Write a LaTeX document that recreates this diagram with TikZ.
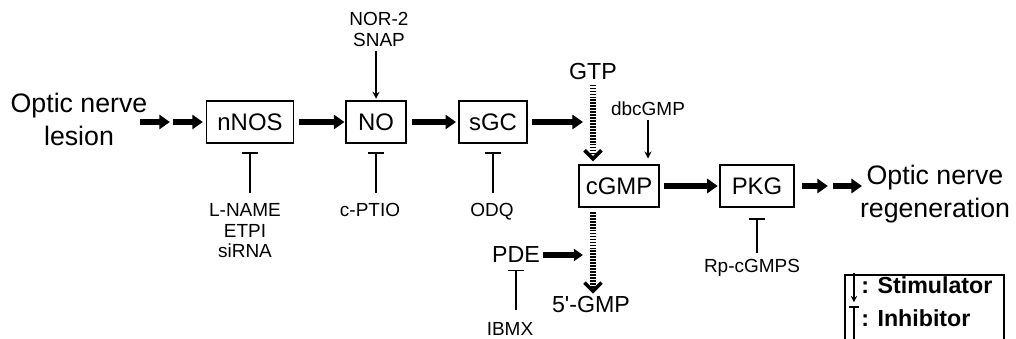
\documentclass[tikz,border=0pt]{standalone}
\usepackage{fontspec}
\setmainfont{Liberation Sans}
\usepackage{tikz}
\usetikzlibrary{arrows.meta}

\begin{document}
\begin{tikzpicture}[x=0.025cm,y=-0.025cm]
	\tikzstyle{box}=[draw=black,line width=1.2pt,minimum height=1.05cm,inner sep=0pt,font=\fontsize{17}{20}\selectfont]
	\tikzstyle{big}=[inner sep=0pt,align=center,font=\fontsize{19}{23.5}\selectfont]
	\tikzstyle{mid}=[inner sep=0pt,font=\fontsize{16.5}{20}\selectfont]
	\tikzstyle{small}=[inner sep=0pt,align=center,font=\fontsize{13.5}{14.8}\selectfont]
	\tikzstyle{legend}=[inner sep=0pt,font=\fontsize{16.5}{19}\selectfont\bfseries]
	\tikzstyle{fat}=[line width=4.3pt,-{Triangle[length=7.5pt,width=10pt]}]
	\tikzstyle{fatsmall}=[line width=3.6pt,-{Triangle[length=6.5pt,width=8.5pt]}]
	\tikzstyle{dots}=[line width=3.8pt,dash pattern=on 1.2pt off 0.9pt,-{Straight Barb[length=6pt,width=12pt,line width=2.6pt]}]
	\tikzstyle{stim}=[line width=1.1pt,-{Stealth[length=5pt,width=5pt]}]
	\tikzstyle{inhib}=[line width=1.1pt,-{Bar[width=11.5pt,line width=1.3pt]}]
	\tikzstyle{keystim}=[line width=1.1pt,-{Stealth[length=4.5pt,width=4.5pt]}]
	\tikzstyle{keyinhib}=[line width=1.1pt,-{Bar[width=7pt,line width=1.3pt]}]
	\useasboundingbox (0,0) rectangle (1016,339);
	% boxes
	\node[box,minimum width=2.175cm](nNOS) at (250,122) {nNOS};
	\node[box,minimum width=1.5cm](NO) at (376,122) {NO};
	\node[box,minimum width=1.7cm](sGC) at (493,122) {sGC};
	\node[box,minimum width=2cm](cGMP) at (619,186) {cGMP};
	\node[box,minimum width=1.85cm](PKG) at (757,186) {PKG};
	% texts
	\node[big,anchor=north](lesion) at (79,93) {Optic nerve\\lesion};
	\node[big,anchor=north](regen) at (935,165) {Optic nerve\\regeneration};
	\node[small,anchor=north](nor) at (379,12) {NOR-2\\SNAP};
	\node[small](dbc) at (648,109) {dbcGMP};
	\node[mid](gtp) at (593,72) {GTP};
	\node[mid](pde) at (516,255) {PDE};
	\node[mid](gmp) at (591,305) {5\textquotesingle-GMP};
	\node[small,anchor=north](lname) at (245,203) {L-NAME\\ETPI\\siRNA};
	\node[small,anchor=north](ptio) at (370,203) {c-PTIO};
	\node[small,anchor=north](odq) at (492,203) {ODQ};
	\node[small,anchor=north](ibmx) at (510,322) {IBMX};
	\node[small,anchor=north](rp) at (752,259) {Rp-cGMPS};
	% main pathway
	\coordinate (s1) at (140,122);
	\coordinate (m1) at (172,122);
	\coordinate (jn) at (583,122);
	\coordinate (m2) at (830,186);
	\coordinate (e2) at (862,186);
	\coordinate (jp) at (583,255);
	\draw[fat,shorten >=1.5pt](s1) -- (m1);
	\draw[fat,shorten <=1pt,shorten >=2pt](m1) -- (nNOS);
	\draw[fat,shorten <=3pt,shorten >=0.5pt](nNOS) -- (NO);
	\draw[fat,shorten <=4pt,shorten >=1.5pt](NO) -- (sGC);
	\draw[fat,shorten <=3pt](sGC) -- (jn);
	\draw[fat,shorten <=3pt,shorten >=1pt](cGMP) -- (PKG);
	\draw[fat,shorten <=5pt,shorten >=1.5pt](PKG) -- (m2);
	\draw[fat,shorten <=2pt](m2) -- (e2);
	\draw[fatsmall,shorten <=2pt](pde) -- (jp);
	\draw[dots,shorten <=3pt,shorten >=2pt](gtp) -- (gtp |- cGMP.north);
	\draw[dots,shorten <=3pt,shorten >=2pt](cGMP.south -| gtp) -- (gmp.north -| gtp);
	% stimulators
	\draw[stim,shorten <=3pt,shorten >=1pt](nor.south -| NO) -- (NO.north);
	\draw[stim,shorten <=3pt,shorten >=4pt](dbc) -- (dbc |- cGMP.north);
	% inhibitors
	\draw[inhib,shorten <=7pt,shorten >=6pt](lname.north -| nNOS) -- (nNOS.south);
	\draw[inhib,shorten <=7pt,shorten >=6pt](ptio.north -| NO) -- (NO.south);
	\draw[inhib,shorten <=7pt,shorten >=6pt](odq.north -| sGC) -- (sGC.south);
	\draw[inhib,shorten <=4pt,shorten >=7pt](rp.north -| PKG) -- (PKG.south);
	\draw[inhib,shorten <=8.5pt,shorten >=4.5pt](ibmx.north -| pde) -- (pde.south);
	% legend
	\node[legend,anchor=west](stimtxt) at (861,285) {: Stimulator};
	\node[legend,anchor=west](inhtxt) at (861,318) {: Inhibitor};
	\draw[line width=1.3pt] (845,275) rectangle (1004,345);
	\draw[keystim]([xshift=-5pt,yshift=2pt]stimtxt.north west) -- ([xshift=-5pt,yshift=-6pt]stimtxt.south west);
	\draw[keyinhib]([xshift=-5pt,yshift=-16pt]inhtxt.south west) -- ([xshift=-5pt,yshift=2pt]inhtxt.north west);
\end{tikzpicture}
\end{document}
